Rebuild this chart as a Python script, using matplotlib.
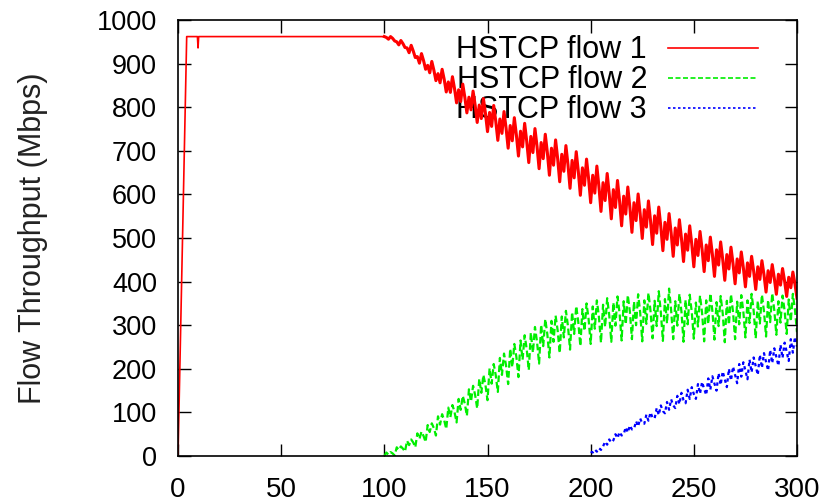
import matplotlib
matplotlib.use('Agg')
import matplotlib.pyplot as plt

plt.rcParams['font.family'] = ['Liberation Sans', 'DejaVu Sans']

# flow 1: ramp-up and plateau, then 1 s samples from t=101 to t=300
red_start_t = [0, 4.2, 9.4, 9.7, 10.0, 100]
red_start_v = [0, 962, 962, 936, 962, 962]
red_osc = [
    960, 956, 962, 958, 952, 950, 943, 953, 946, 937,
    936, 925, 942, 929, 914, 916, 901, 923, 907, 887,
    896, 879, 905, 885, 861, 877, 856, 887, 864, 835,
    858, 834, 870, 843, 810, 840, 813, 853, 823, 787,
    823, 794, 837, 805, 765, 805, 774, 820, 786, 744,
    788, 756, 804, 768, 724, 773, 740, 790, 752, 706,
    758, 723, 776, 736, 688, 745, 709, 763, 722, 673,
    733, 696, 751, 710, 659, 719, 682, 738, 696, 644,
    706, 667, 725, 682, 629, 692, 653, 712, 668, 614,
    678, 638, 698, 653, 598, 661, 621, 681, 636, 581,
    644, 603, 665, 618, 561, 627, 586, 648, 601, 544,
    611, 570, 632, 585, 528, 596, 555, 617, 570, 513,
    581, 540, 601, 555, 499, 565, 525, 585, 540, 485,
    551, 511, 571, 526, 471, 536, 497, 556, 512, 458,
    523, 484, 542, 499, 446, 509, 472, 528, 486, 434,
    497, 460, 515, 474, 423, 484, 448, 502, 462, 412,
    473, 438, 491, 451, 403, 462, 429, 479, 441, 395,
    452, 420, 468, 432, 388, 443, 412, 458, 424, 382,
    434, 405, 448, 416, 376, 425, 398, 439, 408, 371,
    417, 392, 430, 401, 366, 410, 386, 422, 395, 362,
]

# flow 2: starts at t=100, 1 s samples from t=101 to t=300
green_osc = [
    8, 3, 9, 6, 1, 20, 14, 22, 17, 10,
    35, 25, 38, 31, 20, 52, 39, 56, 46, 32,
    71, 55, 75, 64, 47, 91, 72, 96, 82, 62,
    111, 89, 117, 101, 77, 131, 106, 138, 120, 92,
    153, 125, 161, 140, 109, 177, 145, 186, 163, 128,
    201, 166, 211, 185, 147, 225, 186, 235, 207, 165,
    246, 204, 257, 227, 181, 265, 221, 277, 245, 197,
    283, 237, 296, 262, 212, 301, 252, 314, 279, 226,
    310, 262, 322, 288, 236, 320, 272, 333, 298, 244,
    330, 280, 344, 307, 252, 337, 287, 350, 314, 257,
    343, 292, 357, 319, 260, 347, 296, 362, 323, 262,
    352, 299, 366, 328, 265, 355, 302, 369, 331, 268,
    354, 300, 371, 329, 263, 357, 303, 374, 333, 270,
    356, 298, 378, 330, 264, 360, 304, 384, 334, 268,
    355, 299, 372, 331, 262, 358, 302, 370, 330, 269,
    352, 297, 368, 328, 263, 357, 303, 373, 332, 267,
    353, 298, 367, 327, 261, 356, 301, 371, 330, 268,
    354, 302, 369, 331, 272, 357, 305, 372, 333, 270,
    356, 304, 370, 332, 274, 358, 307, 373, 334, 278,
    355, 306, 368, 333, 280, 359, 309, 372, 336, 284,
]

# flow 3: starts at t=200, 1 s samples from t=201 to t=300
blue_osc = [
    8, 15, 10, 18, 14, 22, 33, 26, 38, 31,
    36, 50, 41, 55, 47, 50, 66, 54, 70, 61,
    62, 80, 68, 86, 75, 74, 95, 81, 100, 88,
    86, 110, 94, 116, 103, 98, 124, 106, 130, 116,
    110, 138, 119, 145, 128, 121, 152, 131, 158, 142,
    131, 165, 143, 170, 154, 140, 178, 152, 183, 166,
    150, 190, 163, 194, 176, 158, 200, 173, 205, 186,
    167, 211, 182, 215, 196, 176, 221, 192, 226, 206,
    186, 232, 202, 236, 216, 196, 243, 213, 247, 227,
    207, 255, 225, 260, 239, 218, 268, 237, 273, 251,
]

red_osc_t = [100] + list(range(101, 301))
red_osc_v = [962] + red_osc
green_t = [100] + list(range(101, 301))
green_v = [0] + green_osc
blue_t = [200] + list(range(201, 301))
blue_v = [10] + blue_osc

x_ticks = [0, 50, 100, 150, 200, 250, 300]
y_ticks = [0, 100, 200, 300, 400, 500, 600, 700, 800, 900, 1000]

fig = plt.figure(figsize=(8.37, 5.03), dpi=100)
ax = fig.add_axes([0.2127, 0.0934, 0.7395, 0.8668])

ax.plot(red_start_t, red_start_v, color='#ff0000', lw=1.2)
ax.plot(red_osc_t, red_osc_v, color='#ff0000', lw=2.2, label='HSTCP flow 1')
ax.plot(green_t, green_v, color='#00ee00', lw=1.6, ls=(0, (3, 1.5)), label='HSTCP flow 2')
ax.plot(blue_t, blue_v, color='#0000ff', lw=1.6, ls=(0, (1.5, 1.5)), label='HSTCP flow 3')

ax.set_xlim(0, 300)
ax.set_ylim(0, 1000)
ax.set_xticks(x_ticks)
ax.set_yticks(y_ticks)
ax.tick_params(direction='in', top=True, right=True, length=9, width=1, pad=15)
ax.tick_params(axis='x', labelsize=20)
ax.tick_params(axis='y', labelsize=19.5)
for s in ax.spines.values():
    s.set_linewidth(1.2)

ax.set_ylabel('Flow Throughput (Mbps)', fontsize=22, color='#222222')
ax.yaxis.set_label_coords(-0.21, 0.5)

leg = ax.legend(loc='upper right', bbox_to_anchor=(0.937, 0.965), frameon=False,
                markerfirst=False, fontsize=22, handlelength=2.95, handletextpad=0.68,
                labelspacing=0.0, borderaxespad=0, borderpad=0)
for line in leg.get_lines():
    line.set_linewidth(1.2)
# data is drawn over the legend text, as in the original
leg.set_zorder(1)

fig.savefig('out.png', dpi=100)
